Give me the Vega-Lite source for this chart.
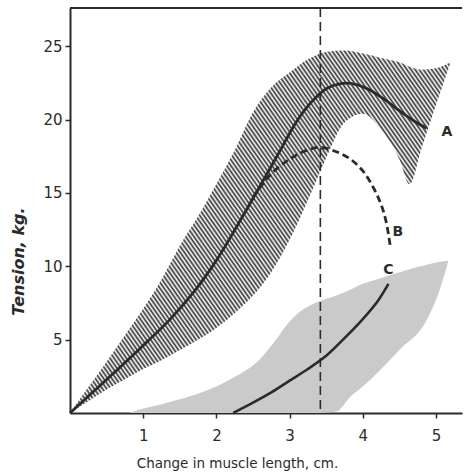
{
  "$schema": "https://vega.github.io/schema/vega-lite/v6.json",
  "width": 392,
  "height": 405,
  "autosize": "none",
  "padding": {"left": 70, "top": 8, "right": 3, "bottom": 60},
  "background": "#ffffff",
  "config": {
    "view": {"stroke": null},
    "font": "DejaVu Sans",
    "axis": {
      "grid": false,
      "domainColor": "#2b2b2b",
      "domainWidth": 2,
      "tickColor": "#2b2b2b",
      "tickWidth": 1.5,
      "tickSize": 5,
      "labelFont": "DejaVu Sans",
      "labelFontSize": 15,
      "labelColor": "#2b2b2b",
      "titleFont": "DejaVu Sans",
      "titleColor": "#2b2b2b"
    }
  },
  "datasets": {
    "hatch": [
      {"x": 0, "y": 0, "lo": 0},
      {"x": 0.25, "y": 1.75, "lo": 0.8},
      {"x": 0.5, "y": 3.5, "lo": 1.6},
      {"x": 0.75, "y": 5.3, "lo": 2.3},
      {"x": 1.0, "y": 7.1, "lo": 3.0},
      {"x": 1.25, "y": 9.1, "lo": 3.6},
      {"x": 1.5, "y": 11.4, "lo": 4.3},
      {"x": 1.75, "y": 13.4, "lo": 5.0},
      {"x": 2.0, "y": 15.6, "lo": 5.8},
      {"x": 2.25, "y": 17.9, "lo": 6.8},
      {"x": 2.5, "y": 20.5, "lo": 8.0},
      {"x": 2.75, "y": 22.2, "lo": 9.6},
      {"x": 3.0, "y": 23.2, "lo": 11.8},
      {"x": 3.25, "y": 24.1, "lo": 14.5},
      {"x": 3.5, "y": 24.6, "lo": 17.4},
      {"x": 3.75, "y": 24.7, "lo": 19.8},
      {"x": 4.0, "y": 24.5, "lo": 20.4},
      {"x": 4.25, "y": 24.2, "lo": 19.3},
      {"x": 4.5, "y": 23.9, "lo": 17.3},
      {"x": 4.64, "y": 23.6, "lo": 15.6},
      {"x": 4.8, "y": 23.4, "lo": 18.0},
      {"x": 5.0, "y": 23.5, "lo": 21.0},
      {"x": 5.2, "y": 23.9, "lo": 23.9}
    ],
    "stipple": [
      {"x": 0.8, "y": 0, "lo": 0},
      {"x": 1.0, "y": 0.3, "lo": 0},
      {"x": 1.25, "y": 0.6, "lo": 0},
      {"x": 1.55, "y": 1.0, "lo": 0},
      {"x": 1.9, "y": 1.6, "lo": 0},
      {"x": 2.23, "y": 2.4, "lo": 0},
      {"x": 2.6, "y": 3.7, "lo": 0},
      {"x": 2.8, "y": 4.9, "lo": 0},
      {"x": 2.96, "y": 6.0, "lo": 0},
      {"x": 3.14, "y": 6.9, "lo": 0},
      {"x": 3.4, "y": 7.6, "lo": 0},
      {"x": 3.64, "y": 8.0, "lo": 0.1},
      {"x": 3.83, "y": 8.4, "lo": 1.1},
      {"x": 4.0, "y": 8.8, "lo": 1.8},
      {"x": 4.19, "y": 9.1, "lo": 2.7},
      {"x": 4.5, "y": 9.6, "lo": 4.3},
      {"x": 4.87, "y": 10.1, "lo": 6.3},
      {"x": 5.05, "y": 10.3, "lo": 8.4},
      {"x": 5.17, "y": 10.4, "lo": 10.4}
    ],
    "curveA": [
      {"x": 0, "y": 0},
      {"x": 0.35, "y": 1.6},
      {"x": 0.68, "y": 3.1},
      {"x": 1.0, "y": 4.6},
      {"x": 1.37, "y": 6.4},
      {"x": 1.7, "y": 8.3},
      {"x": 2.0, "y": 10.4},
      {"x": 2.3, "y": 12.9},
      {"x": 2.6, "y": 15.5},
      {"x": 2.85, "y": 17.7},
      {"x": 3.1, "y": 19.9},
      {"x": 3.3, "y": 21.2},
      {"x": 3.5, "y": 22.1},
      {"x": 3.7, "y": 22.45},
      {"x": 3.9, "y": 22.4},
      {"x": 4.1, "y": 22.0},
      {"x": 4.3, "y": 21.35},
      {"x": 4.5, "y": 20.6},
      {"x": 4.7, "y": 19.9},
      {"x": 4.87, "y": 19.4}
    ],
    "curveB": [
      {"x": 2.5, "y": 14.7},
      {"x": 2.75, "y": 16.3},
      {"x": 3.0, "y": 17.3},
      {"x": 3.23, "y": 17.9},
      {"x": 3.42, "y": 18.1},
      {"x": 3.64, "y": 17.8},
      {"x": 3.83, "y": 17.3},
      {"x": 4.0, "y": 16.5},
      {"x": 4.14, "y": 15.4},
      {"x": 4.25, "y": 14.2},
      {"x": 4.32, "y": 13.0},
      {"x": 4.38, "y": 11.2}
    ],
    "curveC": [
      {"x": 2.23, "y": 0},
      {"x": 2.5, "y": 0.7},
      {"x": 2.75, "y": 1.4},
      {"x": 3.0, "y": 2.2},
      {"x": 3.25, "y": 3.0},
      {"x": 3.5, "y": 3.9},
      {"x": 3.75, "y": 5.1},
      {"x": 4.0, "y": 6.4},
      {"x": 4.2, "y": 7.6},
      {"x": 4.35, "y": 8.8}
    ],
    "labels": [
      {"x": 5.15, "y": 19.15, "label": "A"},
      {"x": 4.48, "y": 12.33, "label": "B"},
      {"x": 4.35, "y": 9.72, "label": "C"}
    ]
  },
  "layer": [
    {
      "data": {"name": "stipple"},
      "mark": {"type": "area", "interpolate": "monotone", "fill": "#cacaca", "stroke": null},
      "encoding": {
        "x": {"field": "x", "type": "quantitative", "scale": {"domain": [0, 5.355], "nice": false, "zero": false},
          "axis": {"title": "Change in muscle length, cm.", "values": [1, 2, 3, 4, 5], "format": "d", "labelPadding": 10,
            "titleFontSize": 13.5, "titleFontWeight": "normal", "titleX": 167, "titleY": 54,
            "titleAlign": "center", "titleBaseline": "alphabetic"}},
        "y": {"field": "y", "type": "quantitative", "scale": {"domain": [0, 27.6], "nice": false, "zero": false},
          "axis": {"title": "Tension, kg.", "values": [5, 10, 15, 20, 25], "format": "d", "labelPadding": 3,
            "titleFontSize": 16, "titleFontWeight": "bold", "titleFontStyle": "italic",
            "titleX": -52, "titleY": 253, "titleAngle": -90, "titleAlign": "center", "titleBaseline": "middle"}},
        "y2": {"field": "lo"}
      }
    },
    {
      "data": {"name": "hatch"},
      "mark": {"type": "area", "interpolate": "monotone", "stroke": null,
        "fill": {"gradient": "linear", "x1": 0, "y1": 1, "x2": 1.5, "y2": 0, "stops": [
{"offset":0,"color":"#333"},{"offset":0.0025,"color":"#fff"},{"offset":0.005,"color":"#333"},{"offset":0.0075,"color":"#fff"},{"offset":0.01,"color":"#333"},{"offset":0.0125,"color":"#fff"},{"offset":0.015,"color":"#333"},{"offset":0.0175,"color":"#fff"},{"offset":0.02,"color":"#333"},{"offset":0.0225,"color":"#fff"},
{"offset":0.025,"color":"#333"},{"offset":0.0275,"color":"#fff"},{"offset":0.03,"color":"#333"},{"offset":0.0325,"color":"#fff"},{"offset":0.035,"color":"#333"},{"offset":0.0375,"color":"#fff"},{"offset":0.04,"color":"#333"},{"offset":0.0425,"color":"#fff"},{"offset":0.045,"color":"#333"},{"offset":0.0475,"color":"#fff"},
{"offset":0.05,"color":"#333"},{"offset":0.0525,"color":"#fff"},{"offset":0.055,"color":"#333"},{"offset":0.0575,"color":"#fff"},{"offset":0.06,"color":"#333"},{"offset":0.0625,"color":"#fff"},{"offset":0.065,"color":"#333"},{"offset":0.0675,"color":"#fff"},{"offset":0.07,"color":"#333"},{"offset":0.0725,"color":"#fff"},
{"offset":0.075,"color":"#333"},{"offset":0.0775,"color":"#fff"},{"offset":0.08,"color":"#333"},{"offset":0.0825,"color":"#fff"},{"offset":0.085,"color":"#333"},{"offset":0.0875,"color":"#fff"},{"offset":0.09,"color":"#333"},{"offset":0.0925,"color":"#fff"},{"offset":0.095,"color":"#333"},{"offset":0.0975,"color":"#fff"},
{"offset":0.1,"color":"#333"},{"offset":0.1025,"color":"#fff"},{"offset":0.105,"color":"#333"},{"offset":0.1075,"color":"#fff"},{"offset":0.11,"color":"#333"},{"offset":0.1125,"color":"#fff"},{"offset":0.115,"color":"#333"},{"offset":0.1175,"color":"#fff"},{"offset":0.12,"color":"#333"},{"offset":0.1225,"color":"#fff"},
{"offset":0.125,"color":"#333"},{"offset":0.1275,"color":"#fff"},{"offset":0.13,"color":"#333"},{"offset":0.1325,"color":"#fff"},{"offset":0.135,"color":"#333"},{"offset":0.1375,"color":"#fff"},{"offset":0.14,"color":"#333"},{"offset":0.1425,"color":"#fff"},{"offset":0.145,"color":"#333"},{"offset":0.1475,"color":"#fff"},
{"offset":0.15,"color":"#333"},{"offset":0.1525,"color":"#fff"},{"offset":0.155,"color":"#333"},{"offset":0.1575,"color":"#fff"},{"offset":0.16,"color":"#333"},{"offset":0.1625,"color":"#fff"},{"offset":0.165,"color":"#333"},{"offset":0.1675,"color":"#fff"},{"offset":0.17,"color":"#333"},{"offset":0.1725,"color":"#fff"},
{"offset":0.175,"color":"#333"},{"offset":0.1775,"color":"#fff"},{"offset":0.18,"color":"#333"},{"offset":0.1825,"color":"#fff"},{"offset":0.185,"color":"#333"},{"offset":0.1875,"color":"#fff"},{"offset":0.19,"color":"#333"},{"offset":0.1925,"color":"#fff"},{"offset":0.195,"color":"#333"},{"offset":0.1975,"color":"#fff"},
{"offset":0.2,"color":"#333"},{"offset":0.2025,"color":"#fff"},{"offset":0.205,"color":"#333"},{"offset":0.2075,"color":"#fff"},{"offset":0.21,"color":"#333"},{"offset":0.2125,"color":"#fff"},{"offset":0.215,"color":"#333"},{"offset":0.2175,"color":"#fff"},{"offset":0.22,"color":"#333"},{"offset":0.2225,"color":"#fff"},
{"offset":0.225,"color":"#333"},{"offset":0.2275,"color":"#fff"},{"offset":0.23,"color":"#333"},{"offset":0.2325,"color":"#fff"},{"offset":0.235,"color":"#333"},{"offset":0.2375,"color":"#fff"},{"offset":0.24,"color":"#333"},{"offset":0.2425,"color":"#fff"},{"offset":0.245,"color":"#333"},{"offset":0.2475,"color":"#fff"},
{"offset":0.25,"color":"#333"},{"offset":0.2525,"color":"#fff"},{"offset":0.255,"color":"#333"},{"offset":0.2575,"color":"#fff"},{"offset":0.26,"color":"#333"},{"offset":0.2625,"color":"#fff"},{"offset":0.265,"color":"#333"},{"offset":0.2675,"color":"#fff"},{"offset":0.27,"color":"#333"},{"offset":0.2725,"color":"#fff"},
{"offset":0.275,"color":"#333"},{"offset":0.2775,"color":"#fff"},{"offset":0.28,"color":"#333"},{"offset":0.2825,"color":"#fff"},{"offset":0.285,"color":"#333"},{"offset":0.2875,"color":"#fff"},{"offset":0.29,"color":"#333"},{"offset":0.2925,"color":"#fff"},{"offset":0.295,"color":"#333"},{"offset":0.2975,"color":"#fff"},
{"offset":0.3,"color":"#333"},{"offset":0.3025,"color":"#fff"},{"offset":0.305,"color":"#333"},{"offset":0.3075,"color":"#fff"},{"offset":0.31,"color":"#333"},{"offset":0.3125,"color":"#fff"},{"offset":0.315,"color":"#333"},{"offset":0.3175,"color":"#fff"},{"offset":0.32,"color":"#333"},{"offset":0.3225,"color":"#fff"},
{"offset":0.325,"color":"#333"},{"offset":0.3275,"color":"#fff"},{"offset":0.33,"color":"#333"},{"offset":0.3325,"color":"#fff"},{"offset":0.335,"color":"#333"},{"offset":0.3375,"color":"#fff"},{"offset":0.34,"color":"#333"},{"offset":0.3425,"color":"#fff"},{"offset":0.345,"color":"#333"},{"offset":0.3475,"color":"#fff"},
{"offset":0.35,"color":"#333"},{"offset":0.3525,"color":"#fff"},{"offset":0.355,"color":"#333"},{"offset":0.3575,"color":"#fff"},{"offset":0.36,"color":"#333"},{"offset":0.3625,"color":"#fff"},{"offset":0.365,"color":"#333"},{"offset":0.3675,"color":"#fff"},{"offset":0.37,"color":"#333"},{"offset":0.3725,"color":"#fff"},
{"offset":0.375,"color":"#333"},{"offset":0.3775,"color":"#fff"},{"offset":0.38,"color":"#333"},{"offset":0.3825,"color":"#fff"},{"offset":0.385,"color":"#333"},{"offset":0.3875,"color":"#fff"},{"offset":0.39,"color":"#333"},{"offset":0.3925,"color":"#fff"},{"offset":0.395,"color":"#333"},{"offset":0.3975,"color":"#fff"},
{"offset":0.4,"color":"#333"},{"offset":0.4025,"color":"#fff"},{"offset":0.405,"color":"#333"},{"offset":0.4075,"color":"#fff"},{"offset":0.41,"color":"#333"},{"offset":0.4125,"color":"#fff"},{"offset":0.415,"color":"#333"},{"offset":0.4175,"color":"#fff"},{"offset":0.42,"color":"#333"},{"offset":0.4225,"color":"#fff"},
{"offset":0.425,"color":"#333"},{"offset":0.4275,"color":"#fff"},{"offset":0.43,"color":"#333"},{"offset":0.4325,"color":"#fff"},{"offset":0.435,"color":"#333"},{"offset":0.4375,"color":"#fff"},{"offset":0.44,"color":"#333"},{"offset":0.4425,"color":"#fff"},{"offset":0.445,"color":"#333"},{"offset":0.4475,"color":"#fff"},
{"offset":0.45,"color":"#333"},{"offset":0.4525,"color":"#fff"},{"offset":0.455,"color":"#333"},{"offset":0.4575,"color":"#fff"},{"offset":0.46,"color":"#333"},{"offset":0.4625,"color":"#fff"},{"offset":0.465,"color":"#333"},{"offset":0.4675,"color":"#fff"},{"offset":0.47,"color":"#333"},{"offset":0.4725,"color":"#fff"},
{"offset":0.475,"color":"#333"},{"offset":0.4775,"color":"#fff"},{"offset":0.48,"color":"#333"},{"offset":0.4825,"color":"#fff"},{"offset":0.485,"color":"#333"},{"offset":0.4875,"color":"#fff"},{"offset":0.49,"color":"#333"},{"offset":0.4925,"color":"#fff"},{"offset":0.495,"color":"#333"},{"offset":0.4975,"color":"#fff"},
{"offset":0.5,"color":"#333"},{"offset":0.5025,"color":"#fff"},{"offset":0.505,"color":"#333"},{"offset":0.5075,"color":"#fff"},{"offset":0.51,"color":"#333"},{"offset":0.5125,"color":"#fff"},{"offset":0.515,"color":"#333"},{"offset":0.5175,"color":"#fff"},{"offset":0.52,"color":"#333"},{"offset":0.5225,"color":"#fff"},
{"offset":0.525,"color":"#333"},{"offset":0.5275,"color":"#fff"},{"offset":0.53,"color":"#333"},{"offset":0.5325,"color":"#fff"},{"offset":0.535,"color":"#333"},{"offset":0.5375,"color":"#fff"},{"offset":0.54,"color":"#333"},{"offset":0.5425,"color":"#fff"},{"offset":0.545,"color":"#333"},{"offset":0.5475,"color":"#fff"},
{"offset":0.55,"color":"#333"},{"offset":0.5525,"color":"#fff"},{"offset":0.555,"color":"#333"},{"offset":0.5575,"color":"#fff"},{"offset":0.56,"color":"#333"},{"offset":0.5625,"color":"#fff"},{"offset":0.565,"color":"#333"},{"offset":0.5675,"color":"#fff"},{"offset":0.57,"color":"#333"},{"offset":0.5725,"color":"#fff"},
{"offset":0.575,"color":"#333"},{"offset":0.5775,"color":"#fff"},{"offset":0.58,"color":"#333"},{"offset":0.5825,"color":"#fff"},{"offset":0.585,"color":"#333"},{"offset":0.5875,"color":"#fff"},{"offset":0.59,"color":"#333"},{"offset":0.5925,"color":"#fff"},{"offset":0.595,"color":"#333"},{"offset":0.5975,"color":"#fff"},
{"offset":0.6,"color":"#333"},{"offset":0.6025,"color":"#fff"},{"offset":0.605,"color":"#333"},{"offset":0.6075,"color":"#fff"},{"offset":0.61,"color":"#333"},{"offset":0.6125,"color":"#fff"},{"offset":0.615,"color":"#333"},{"offset":0.6175,"color":"#fff"},{"offset":0.62,"color":"#333"},{"offset":0.6225,"color":"#fff"},
{"offset":0.625,"color":"#333"},{"offset":0.6275,"color":"#fff"},{"offset":0.63,"color":"#333"},{"offset":0.6325,"color":"#fff"},{"offset":0.635,"color":"#333"},{"offset":0.6375,"color":"#fff"},{"offset":0.64,"color":"#333"},{"offset":0.6425,"color":"#fff"},{"offset":0.645,"color":"#333"},{"offset":0.6475,"color":"#fff"},
{"offset":0.65,"color":"#333"},{"offset":0.6525,"color":"#fff"},{"offset":0.655,"color":"#333"},{"offset":0.6575,"color":"#fff"},{"offset":0.66,"color":"#333"},{"offset":0.6625,"color":"#fff"},{"offset":0.665,"color":"#333"},{"offset":0.6675,"color":"#fff"},{"offset":0.67,"color":"#333"},{"offset":0.6725,"color":"#fff"},
{"offset":0.675,"color":"#333"},{"offset":0.6775,"color":"#fff"},{"offset":0.68,"color":"#333"},{"offset":0.6825,"color":"#fff"},{"offset":0.685,"color":"#333"},{"offset":0.6875,"color":"#fff"},{"offset":0.69,"color":"#333"},{"offset":0.6925,"color":"#fff"},{"offset":0.695,"color":"#333"},{"offset":0.6975,"color":"#fff"},
{"offset":0.7,"color":"#333"},{"offset":0.7025,"color":"#fff"},{"offset":0.705,"color":"#333"},{"offset":0.7075,"color":"#fff"},{"offset":0.71,"color":"#333"},{"offset":0.7125,"color":"#fff"},{"offset":0.715,"color":"#333"},{"offset":0.7175,"color":"#fff"},{"offset":0.72,"color":"#333"},{"offset":0.7225,"color":"#fff"},
{"offset":0.725,"color":"#333"},{"offset":0.7275,"color":"#fff"},{"offset":0.73,"color":"#333"},{"offset":0.7325,"color":"#fff"},{"offset":0.735,"color":"#333"},{"offset":0.7375,"color":"#fff"},{"offset":0.74,"color":"#333"},{"offset":0.7425,"color":"#fff"},{"offset":0.745,"color":"#333"},{"offset":0.7475,"color":"#fff"},
{"offset":0.75,"color":"#333"},{"offset":0.7525,"color":"#fff"},{"offset":0.755,"color":"#333"},{"offset":0.7575,"color":"#fff"},{"offset":0.76,"color":"#333"},{"offset":0.7625,"color":"#fff"},{"offset":0.765,"color":"#333"},{"offset":0.7675,"color":"#fff"},{"offset":0.77,"color":"#333"},{"offset":0.7725,"color":"#fff"}
        ]}},
      "encoding": {
        "x": {"field": "x", "type": "quantitative"},
        "y": {"field": "y", "type": "quantitative"},
        "y2": {"field": "lo"}
      }
    },
    {
      "data": {"name": "curveC"},
      "mark": {"type": "line", "interpolate": "catmull-rom", "stroke": "#2b2b2b", "strokeWidth": 2.6},
      "encoding": {
        "x": {"field": "x", "type": "quantitative"},
        "y": {"field": "y", "type": "quantitative"}
      }
    },
    {
      "data": {"name": "curveA"},
      "mark": {"type": "line", "interpolate": "catmull-rom", "stroke": "#2b2b2b", "strokeWidth": 2.8},
      "encoding": {
        "x": {"field": "x", "type": "quantitative"},
        "y": {"field": "y", "type": "quantitative"}
      }
    },
    {
      "data": {"name": "curveB"},
      "mark": {"type": "line", "interpolate": "catmull-rom", "stroke": "#2b2b2b", "strokeWidth": 2.8, "strokeDash": [7, 4]},
      "encoding": {
        "x": {"field": "x", "type": "quantitative"},
        "y": {"field": "y", "type": "quantitative"}
      }
    },
    {
      "data": {"values": [{}]},
      "mark": {"type": "rule", "stroke": "#2b2b2b", "strokeWidth": 1.6, "strokeDash": [9, 5]},
      "encoding": {"x": {"datum": 3.42}}
    },
    {
      "data": {"values": [{}]},
      "mark": {"type": "rule", "stroke": "#2b2b2b", "strokeWidth": 1.8},
      "encoding": {"y": {"datum": 27.6}}
    },
    {
      "data": {"name": "labels"},
      "mark": {"type": "text", "font": "DejaVu Sans", "fontSize": 14, "fontWeight": "bold", "fill": "#2b2b2b", "align": "center", "baseline": "middle"},
      "encoding": {
        "x": {"field": "x", "type": "quantitative"},
        "y": {"field": "y", "type": "quantitative"},
        "text": {"field": "label"}
      }
    }
  ]
}
